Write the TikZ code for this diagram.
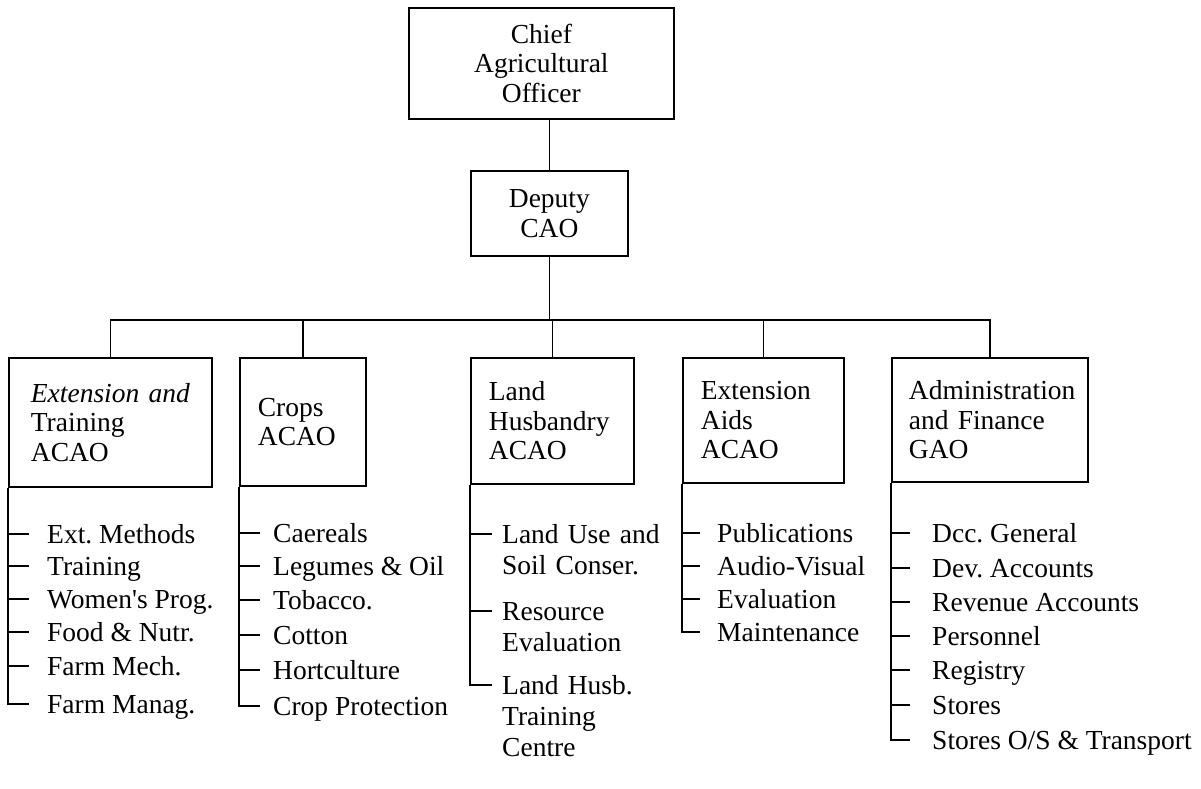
\documentclass[tikz,border=0pt]{standalone}
\usepackage{fontspec}
\setmainfont{Liberation Serif}
\frenchspacing
\begin{document}
\begin{tikzpicture}[x=1pt,y=-1pt,
  every node/.style={font=\fontsize{27.5}{29.5}\selectfont},
  box/.style={draw, line width=1.8pt, anchor=north west, inner ysep=0pt},
  lbox/.style={box, align=left},
  item/.style={anchor=west, inner sep=0pt, text height=19pt, text depth=0pt},
  mitem/.style={item, text width=160pt, align=left, font=\fontsize{27.5}{31}\selectfont},
  conn/.style={line width=1.6pt}]
\useasboundingbox (0,0) rectangle (1201,788);

% top boxes
\node[box, minimum width=265pt, minimum height=111pt, align=center] (chief) at (408,7) {Chief\\Agricultural\\Officer};
\node[box, minimum width=157pt, minimum height=85pt, align=center] (deputy) at (470,170) {Deputy\\CAO};

% second level boxes
\node[lbox, minimum height=129pt, text width=159pt, inner xsep=22pt] (ext) at (8,357) {\textit{Extension and}\\Training\\ACAO};
\node[lbox, minimum height=128pt, text width=90pt, inner xsep=18pt] (crops) at (239,357) {Crops\\ACAO};
\node[lbox, minimum height=126pt, text width=127pt, inner xsep=18pt] (land) at (470,357) {Land\\Husbandry\\ACAO};
\node[lbox, minimum height=125pt, text width=125pt, inner xsep=18pt] (aids) at (682,357) {Extension\\Aids\\ACAO};
\node[lbox, minimum height=124pt, text width=162pt, inner xsep=17pt] (admin) at (891,357) {Administration\\and Finance\\GAO};

% connectors top
\coordinate (bus) at (0,320);
\draw[conn] (chief.south -| deputy.north) -- (deputy.north);
\draw[conn] (deputy.south) -- (deputy.south |- bus);
\draw[conn] (ext.north) -- (ext.north |- bus) -- (admin.north |- bus) -- (admin.north);
\draw[conn] (crops.north) -- (crops.north |- bus);
\draw[conn] (land.north) -- (land.north |- bus);
\draw[conn] (aids.north) -- (aids.north |- bus);

% Extension and Training items
\node[item] (e1) at (47,534) {Ext. Methods};
\node[item] (e2) at (47,566) {Training};
\node[item] (e3) at (47,599) {Women\textquotesingle s Prog.};
\node[item] (e4) at (47,632) {Food \& Nutr.};
\node[item] (e5) at (47,666) {Farm Mech.};
\node[item] (e6) at (47,704) {Farm Manag.};
\draw[conn] (ext.south west) |- ([xshift=-18pt]e6.west);
\foreach \n in {e1,e2,e3,e4,e5}
  \draw[conn] (ext.south west |- \n.west) -- ([xshift=-18pt]\n.west);

% Crops items
\node[item] (c1) at (273,533) {Caereals};
\node[item] (c2) at (273,566) {Legumes \& Oil};
\node[item] (c3) at (273,600) {Tobacco.};
\node[item] (c4) at (273,635) {Cotton};
\node[item] (c5) at (273,670) {Hortculture};
\node[item] (c6) at (273,706) {Crop Protection};
\draw[conn] (crops.south west) |- ([xshift=-13pt]c6.west);
\foreach \n in {c1,c2,c3,c4,c5}
  \draw[conn] (crops.south west |- \n.west) -- ([xshift=-13pt]\n.west);

% Land Husbandry items
\node[mitem] (l1) at (502,534) {Land Use and\\Soil Conser.};
\node[mitem] (l2) at (502,611) {Resource\\Evaluation};
\node[mitem] (l3) at (502,685) {Land Husb.\\Training\\Centre};
\draw[conn] (land.south west) |- ([xshift=-10pt]l3.west);
\foreach \n in {l1,l2}
  \draw[conn] (land.south west |- \n.west) -- ([xshift=-10pt]\n.west);

% Extension Aids items
\node[item] (a1) at (717,533) {Publications};
\node[item] (a2) at (717,566) {Audio-Visual};
\node[item] (a3) at (717,599) {Evaluation};
\node[item] (a4) at (717,632) {Maintenance};
\draw[conn] (aids.south west) |- ([xshift=-17pt]a4.west);
\foreach \n in {a1,a2,a3}
  \draw[conn] (aids.south west |- \n.west) -- ([xshift=-17pt]\n.west);

% Administration and Finance items
\node[item] (f1) at (932,533) {Dcc. General};
\node[item] (f2) at (932,568) {Dev. Accounts};
\node[item] (f3) at (932,602) {Revenue Accounts};
\node[item] (f4) at (932,636) {Personnel};
\node[item] (f5) at (932,670) {Registry};
\node[item] (f6) at (932,705) {Stores};
\node[item] (f7) at (932,740) {Stores O/S \& Transport};
\draw[conn] (admin.south west) |- ([xshift=-22pt]f7.west);
\foreach \n in {f1,f2,f3,f4,f5,f6}
  \draw[conn] (admin.south west |- \n.west) -- ([xshift=-22pt]\n.west);
\end{tikzpicture}
\end{document}
